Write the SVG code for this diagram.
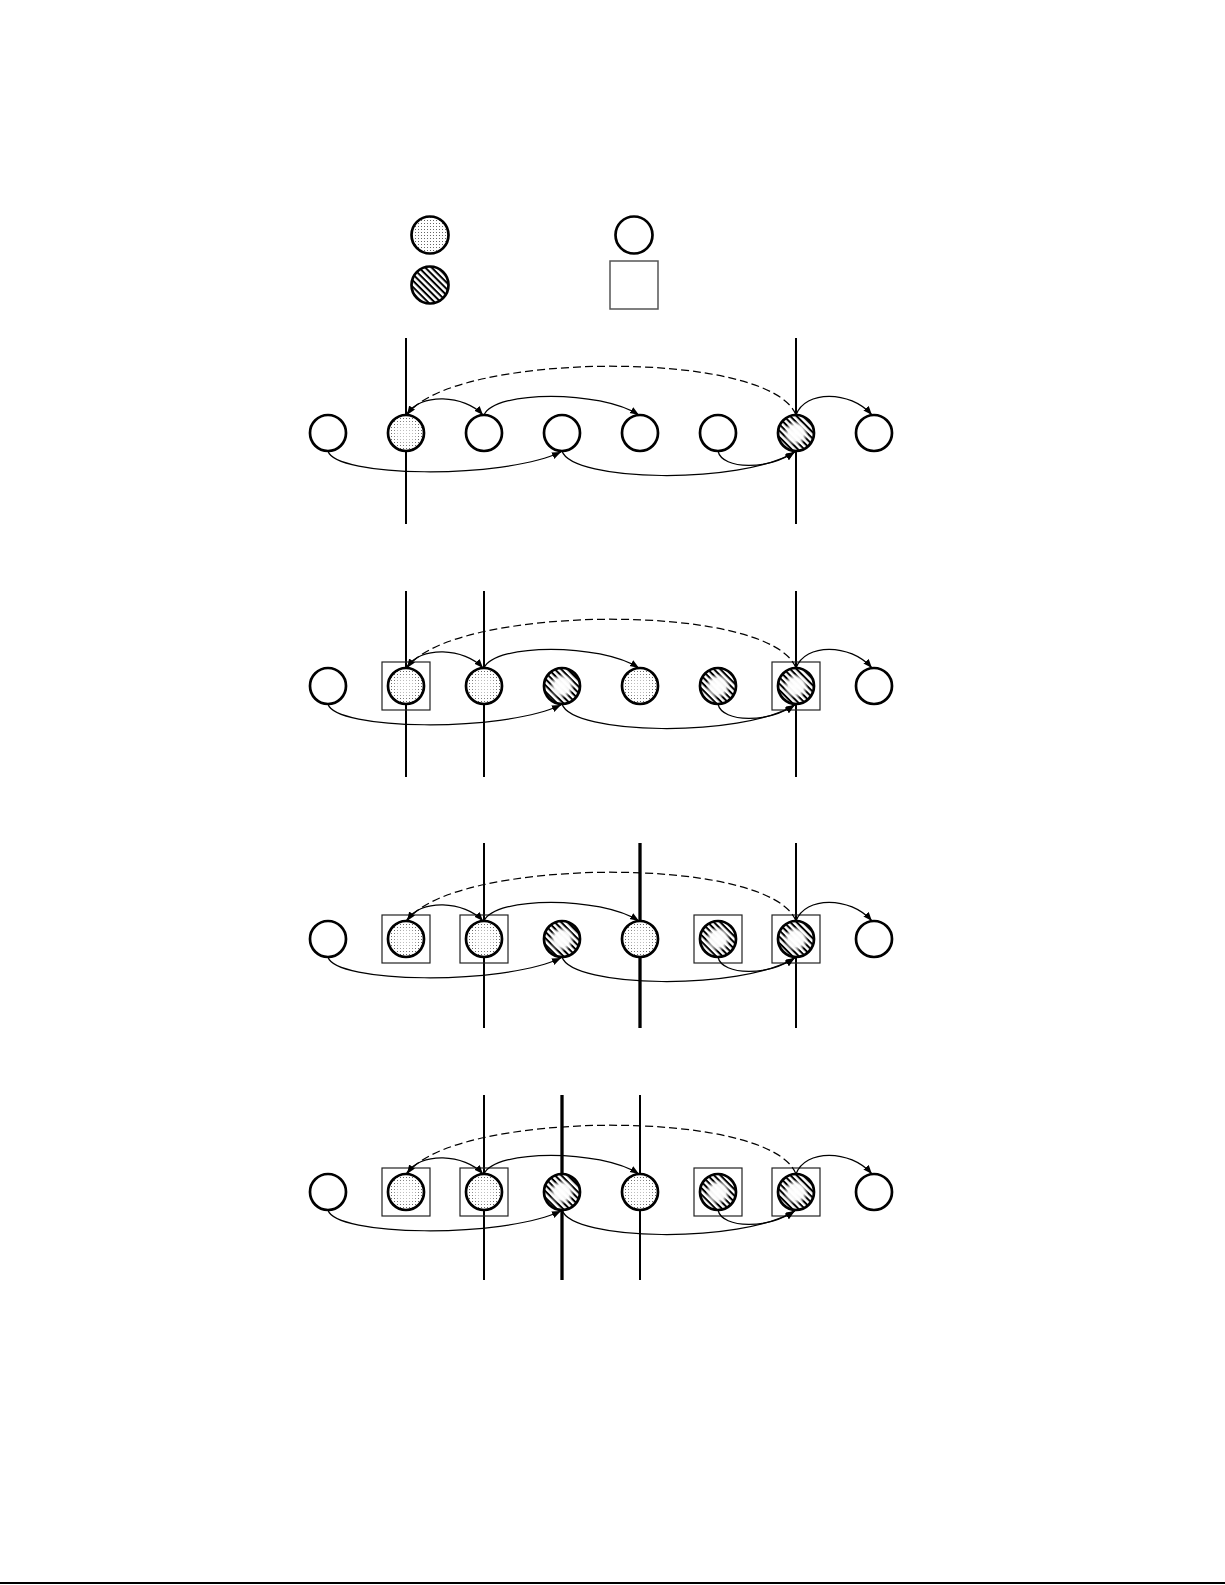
<svg xmlns="http://www.w3.org/2000/svg" width="1225" height="1585" viewBox="0 0 1225 1585">
<style>
.n{stroke:#000;stroke-width:2.7}
.w{fill:#fff}
.dt{fill:url(#dots)}
.ht{fill:url(#hatch)}
.fd{fill:url(#fade);stroke:none}
.box{fill:none;stroke:#222;stroke-width:1.2}
.e{fill:none;stroke:#000;stroke-width:1.25;marker-end:url(#ah)}
.d{stroke-dasharray:8 4}
.v{stroke:#000;stroke-width:2}
.vt{stroke-width:3.3}
</style>
<defs>
<pattern id="dots" width="3" height="3" patternUnits="userSpaceOnUse">
<rect width="3" height="3" fill="#fff"/>
<rect x="1" y="1" width="1" height="1" fill="#666"/>
</pattern>
<pattern id="hatch" width="4.5" height="4.5" patternUnits="userSpaceOnUse" patternTransform="rotate(45)">
<rect width="4.5" height="4.5" fill="#fff"/>
<rect width="4.5" height="2" fill="#000"/>
</pattern>
<radialGradient id="fade">
<stop offset="0" stop-color="#fff" stop-opacity="1"/>
<stop offset="0.6" stop-color="#fff" stop-opacity="0.95"/>
<stop offset="1" stop-color="#fff" stop-opacity="0"/>
</radialGradient>
<marker id="ah" markerUnits="userSpaceOnUse" markerWidth="10" markerHeight="8" refX="9" refY="3.5" orient="auto">
<path d="M0,0 L9,3.5 L0,7 z" fill="#000"/>
</marker>
</defs>
<rect width="1225" height="1585" fill="#fff"/>

<g id="legend">
<g id="legend-dotted"><circle class="n dt" cx="430" cy="235" r="18.5"/></g>
<g id="legend-hatched"><circle class="n ht" cx="430" cy="285" r="18.5"/></g>
<g id="legend-open"><circle class="n w" cx="634" cy="235" r="18.5"/></g>
<g id="legend-box"><rect x="610" y="261" width="48" height="48" fill="#fff" stroke="#555" stroke-width="1.5"/></g>
</g>

<!-- Row 1 -->
<g id="row1">
<g id="row1-dividers">
<line class="v" x1="406" y1="338" x2="406" y2="524"/>
<line class="v" x1="796" y1="338" x2="796" y2="524"/>
</g>
<g id="r1n1"><circle class="n w" cx="328" cy="433" r="18"/></g>
<g id="r1n2"><circle class="n dt" cx="406" cy="433" r="18"/><circle class="fd" cx="406" cy="433" r="14" opacity="0.6"/></g>
<g id="r1n3"><circle class="n w" cx="484" cy="433" r="18"/></g>
<g id="r1n4"><circle class="n w" cx="562" cy="433" r="18"/></g>
<g id="r1n5"><circle class="n w" cx="640" cy="433" r="18"/></g>
<g id="r1n6"><circle class="n w" cx="718" cy="433" r="18"/></g>
<g id="r1n7"><circle class="n ht" cx="796" cy="433" r="18"/><circle class="fd" cx="796" cy="433" r="12.5"/></g>
<g id="r1n8"><circle class="n w" cx="874" cy="433" r="18"/></g>
<g id="row1-connectors">
<path class="e" d="M328,451 C335,477 500,480 561,452"/>
<path class="e" d="M562,451 C572,482 740,485 795,452"/>
<path class="e" d="M718,451 C722,470 770,470 794,452"/>
<path class="e" d="M406,415 C420,392 465,395 483,415"/>
<path class="e" d="M484,415 C495,390 600,390 639,415"/>
<path class="e d" d="M796,415 C770,348 450,352 407,415"/>
<path class="e" d="M796,415 C805,390 850,390 872,415"/>
</g>
</g>

<!-- Row 2 -->
<g id="row2" transform="translate(0,253)">
<g id="row2-dividers">
<line class="v" x1="406" y1="338" x2="406" y2="524"/>
<line class="v" x1="484" y1="338" x2="484" y2="524"/>
<line class="v" x1="796" y1="338" x2="796" y2="524"/>
</g>
<g id="r2n1"><circle class="n w" cx="328" cy="433" r="18"/></g>
<g id="r2n2"><rect class="box" x="382" y="409" width="48" height="48"/><circle class="n dt" cx="406" cy="433" r="18"/><circle class="fd" cx="406" cy="433" r="14" opacity="0.6"/></g>
<g id="r2n3"><circle class="n dt" cx="484" cy="433" r="18"/><circle class="fd" cx="484" cy="433" r="14" opacity="0.6"/></g>
<g id="r2n4"><circle class="n ht" cx="562" cy="433" r="18"/><circle class="fd" cx="562" cy="433" r="12.5"/></g>
<g id="r2n5"><circle class="n dt" cx="640" cy="433" r="18"/><circle class="fd" cx="640" cy="433" r="14" opacity="0.6"/></g>
<g id="r2n6"><circle class="n ht" cx="718" cy="433" r="18"/><circle class="fd" cx="718" cy="433" r="12.5"/></g>
<g id="r2n7"><rect class="box" x="772" y="409" width="48" height="48"/><circle class="n ht" cx="796" cy="433" r="18"/><circle class="fd" cx="796" cy="433" r="12.5"/></g>
<g id="r2n8"><circle class="n w" cx="874" cy="433" r="18"/></g>
<g id="row2-connectors">
<path class="e" d="M328,451 C335,477 500,480 561,452"/>
<path class="e" d="M562,451 C572,482 740,485 795,452"/>
<path class="e" d="M718,451 C722,470 770,470 794,452"/>
<path class="e" d="M406,415 C420,392 465,395 483,415"/>
<path class="e" d="M484,415 C495,390 600,390 639,415"/>
<path class="e d" d="M796,415 C770,348 450,352 407,415"/>
<path class="e" d="M796,415 C805,390 850,390 872,415"/>
</g>
</g>

<!-- Row 3 -->
<g id="row3" transform="translate(0,506)">
<g id="row3-dividers">
<line class="v" x1="484" y1="337" x2="484" y2="522"/>
<line class="v vt" x1="640" y1="337" x2="640" y2="522"/>
<line class="v" x1="796" y1="337" x2="796" y2="522"/>
</g>
<g id="r3n1"><circle class="n w" cx="328" cy="433" r="18"/></g>
<g id="r3n2"><rect class="box" x="382" y="409" width="48" height="48"/><circle class="n dt" cx="406" cy="433" r="18"/><circle class="fd" cx="406" cy="433" r="14" opacity="0.6"/></g>
<g id="r3n3"><rect class="box" x="460" y="409" width="48" height="48"/><circle class="n dt" cx="484" cy="433" r="18"/><circle class="fd" cx="484" cy="433" r="14" opacity="0.6"/></g>
<g id="r3n4"><circle class="n ht" cx="562" cy="433" r="18"/><circle class="fd" cx="562" cy="433" r="12.5"/></g>
<g id="r3n5"><circle class="n dt" cx="640" cy="433" r="18"/><circle class="fd" cx="640" cy="433" r="14" opacity="0.6"/></g>
<g id="r3n6"><rect class="box" x="694" y="409" width="48" height="48"/><circle class="n ht" cx="718" cy="433" r="18"/><circle class="fd" cx="718" cy="433" r="12.5"/></g>
<g id="r3n7"><rect class="box" x="772" y="409" width="48" height="48"/><circle class="n ht" cx="796" cy="433" r="18"/><circle class="fd" cx="796" cy="433" r="12.5"/></g>
<g id="r3n8"><circle class="n w" cx="874" cy="433" r="18"/></g>
<g id="row3-connectors">
<path class="e" d="M328,451 C335,477 500,480 561,452"/>
<path class="e" d="M562,451 C572,482 740,485 795,452"/>
<path class="e" d="M718,451 C722,470 770,470 794,452"/>
<path class="e" d="M406,415 C420,392 465,395 483,415"/>
<path class="e" d="M484,415 C495,390 600,390 639,415"/>
<path class="e d" d="M796,415 C770,348 450,352 407,415"/>
<path class="e" d="M796,415 C805,390 850,390 872,415"/>
</g>
</g>

<!-- Row 4 -->
<g id="row4" transform="translate(0,759)">
<g id="row4-dividers">
<line class="v" x1="484" y1="336" x2="484" y2="521"/>
<line class="v vt" x1="562" y1="336" x2="562" y2="521"/>
<line class="v" x1="640" y1="336" x2="640" y2="521"/>
</g>
<g id="r4n1"><circle class="n w" cx="328" cy="433" r="18"/></g>
<g id="r4n2"><rect class="box" x="382" y="409" width="48" height="48"/><circle class="n dt" cx="406" cy="433" r="18"/><circle class="fd" cx="406" cy="433" r="14" opacity="0.6"/></g>
<g id="r4n3"><rect class="box" x="460" y="409" width="48" height="48"/><circle class="n dt" cx="484" cy="433" r="18"/><circle class="fd" cx="484" cy="433" r="14" opacity="0.6"/></g>
<g id="r4n4"><circle class="n ht" cx="562" cy="433" r="18"/><circle class="fd" cx="562" cy="433" r="12.5"/></g>
<g id="r4n5"><circle class="n dt" cx="640" cy="433" r="18"/><circle class="fd" cx="640" cy="433" r="14" opacity="0.6"/></g>
<g id="r4n6"><rect class="box" x="694" y="409" width="48" height="48"/><circle class="n ht" cx="718" cy="433" r="18"/><circle class="fd" cx="718" cy="433" r="12.5"/></g>
<g id="r4n7"><rect class="box" x="772" y="409" width="48" height="48"/><circle class="n ht" cx="796" cy="433" r="18"/><circle class="fd" cx="796" cy="433" r="12.5"/></g>
<g id="r4n8"><circle class="n w" cx="874" cy="433" r="18"/></g>
<g id="row4-connectors">
<path class="e" d="M328,451 C335,477 500,480 561,452"/>
<path class="e" d="M562,451 C572,482 740,485 795,452"/>
<path class="e" d="M718,451 C722,470 770,470 794,452"/>
<path class="e" d="M406,415 C420,392 465,395 483,415"/>
<path class="e" d="M484,415 C495,390 600,390 639,415"/>
<path class="e d" d="M796,415 C770,348 450,352 407,415"/>
<path class="e" d="M796,415 C805,390 850,390 872,415"/>
</g>
</g>

<line id="page-rule" x1="0" y1="1583" x2="1225" y2="1583" stroke="#000" stroke-width="2"/>
</svg>
